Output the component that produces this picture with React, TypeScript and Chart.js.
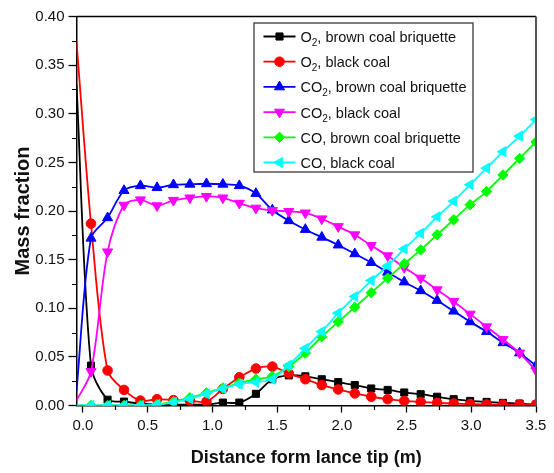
import React, { useEffect, useRef } from 'react';
import { Chart, registerables } from 'chart.js';

Chart.register(...registerables);

// Distance from lance tip (m) for each computed point
const distance = [-0.05, 0.062, 0.19, 0.317, 0.444, 0.572, 0.699, 0.826, 0.954, 1.081, 1.208, 1.336, 1.463, 1.59, 1.718, 1.845, 1.972, 2.1, 2.227, 2.354, 2.482, 2.609, 2.736, 2.864, 2.991, 3.118, 3.245, 3.373, 3.5];

const o2Brown = [0.33, 0.041, 0.006, 0.004, 0.002, 0.001, 0.001, 0.001, 0.001, 0.003, 0.003, 0.012, 0.027, 0.031, 0.030, 0.027, 0.024, 0.021, 0.0175, 0.016, 0.0134, 0.0116, 0.009, 0.0065, 0.0047, 0.0037, 0.0027, 0.002, 0.001];
const o2Black = [0.374, 0.187, 0.036, 0.016, 0.005, 0.0065, 0.0055, 0.005, 0.004, 0.017, 0.029, 0.038, 0.040, 0.033, 0.027, 0.021, 0.0165, 0.0124, 0.009, 0.0065, 0.0047, 0.0037, 0.0027, 0.002, 0.0015, 0.001, 0.001, 0.001, 0.001];
const co2Brown = [0.015, 0.172, 0.193, 0.221, 0.226, 0.224, 0.227, 0.2275, 0.228, 0.2275, 0.226, 0.218, 0.201, 0.190, 0.181, 0.173, 0.165, 0.156, 0.147, 0.137, 0.127, 0.118, 0.108, 0.097, 0.086, 0.076, 0.0645, 0.054, 0.041];
const co2Black = [0.005, 0.035, 0.158, 0.206, 0.2115, 0.2055, 0.211, 0.2135, 0.215, 0.2135, 0.208, 0.203, 0.2006, 0.1996, 0.198, 0.192, 0.184, 0.1756, 0.1645, 0.154, 0.142, 0.131, 0.119, 0.107, 0.094, 0.081, 0.068, 0.054, 0.036];
const coBrown = [0, 0, 0, 0, 0, 0.001, 0.004, 0.008, 0.013, 0.018, 0.023, 0.027, 0.030, 0.040, 0.054, 0.0707, 0.086, 0.101, 0.116, 0.131, 0.1457, 0.160, 0.1756, 0.191, 0.2065, 0.220, 0.237, 0.254, 0.271];
const coBlack = [0, 0, 0, 0, 0, 0.001, 0.003, 0.007, 0.012, 0.0175, 0.022, 0.024, 0.027, 0.0415, 0.0587, 0.076, 0.095, 0.112, 0.1285, 0.1436, 0.161, 0.177, 0.194, 0.210, 0.227, 0.244, 0.261, 0.277, 0.294];

const seriesValues = [o2Brown, o2Black, co2Brown, co2Black, coBrown, coBlack];
const seriesLabels = [
  'O₂, brown coal briquette',
  'O₂, black coal',
  'CO₂, brown coal briquette',
  'CO₂, black coal',
  'CO, brown coal briquette',
  'CO, black coal',
];
const seriesColors = ['#000000', '#ff0000', '#0000ff', '#ff00ff', '#00ff00', '#00ffff'];
const pointStyles = ['rect', 'circle', 'triangle', 'triangle', 'rectRot', 'triangle'];
const pointRotations = [0, 0, 0, 180, 0, -90];
const pointRadii = [5, 4.8, 5.8, 5.8, 5.2, 5.8];

const xTicks = [0, 0.5, 1.0, 1.5, 2.0, 2.5, 3.0, 3.5];
const xMinorTicks = [0.25, 0.75, 1.25, 1.75, 2.25, 2.75, 3.25];
const yTicks = [0, 0.05, 0.1, 0.15, 0.2, 0.25, 0.3, 0.35, 0.4];
const yMinorTicks = [0.025, 0.075, 0.125, 0.175, 0.225, 0.275, 0.325, 0.375];

const FONT = "'Liberation Sans', Arial, Helvetica, sans-serif";

function drawMarker(ctx: CanvasRenderingContext2D, style: string, x: number, y: number, r: number, rotDeg: number, color: string) {
  ctx.save();
  ctx.fillStyle = color;
  ctx.strokeStyle = color;
  ctx.lineWidth = 1;
  ctx.beginPath();
  if (style === 'circle') {
    ctx.arc(x, y, r, 0, Math.PI * 2);
  } else if (style === 'rect') {
    const s = Math.SQRT1_2 * r;
    ctx.rect(x - s, y - s, 2 * s, 2 * s);
  } else if (style === 'rectRot') {
    ctx.moveTo(x, y - r);
    ctx.lineTo(x + r, y);
    ctx.lineTo(x, y + r);
    ctx.lineTo(x - r, y);
    ctx.closePath();
  } else {
    let a = (rotDeg * Math.PI) / 180;
    for (let i = 0; i < 3; i++) {
      const px = x + Math.sin(a) * r;
      const py = y - Math.cos(a) * r;
      if (i === 0) ctx.moveTo(px, py);
      else ctx.lineTo(px, py);
      a += (2 * Math.PI) / 3;
    }
    ctx.closePath();
  }
  ctx.fill();
  ctx.stroke();
  ctx.restore();
}

const framePlugin = {
  id: 'frameAndMinorTicks',
  afterDatasetsDraw(chart: any) {
    const { ctx, chartArea: ca, scales } = chart;
    ctx.save();
    ctx.strokeStyle = '#000';
    ctx.lineWidth = 1.5;
    ctx.beginPath();
    ctx.moveTo(ca.left, ca.top);
    ctx.lineTo(ca.right, ca.top);
    ctx.stroke();
    ctx.strokeStyle = '#555';
    ctx.lineWidth = 2;
    ctx.beginPath();
    ctx.moveTo(ca.right, ca.top);
    ctx.lineTo(ca.right, ca.bottom);
    ctx.stroke();
    ctx.strokeStyle = '#000';
    ctx.lineWidth = 1.2;
    ctx.beginPath();
    for (const v of yMinorTicks) {
      const py = Math.round(scales.y.getPixelForValue(v)) + 0.5;
      ctx.moveTo(ca.left - 4.5, py);
      ctx.lineTo(ca.left, py);
    }
    for (const v of xMinorTicks) {
      const px = Math.round(scales.x.getPixelForValue(v)) + 0.5;
      ctx.moveTo(px, ca.bottom);
      ctx.lineTo(px, ca.bottom + 4.5);
    }
    ctx.stroke();
    ctx.restore();
  },
};

const legendPlugin = {
  id: 'boxedLegend',
  afterDraw(chart: any) {
    const { ctx, chartArea: ca } = chart;
    const bx = ca.left + 177;
    const by = ca.top + 6;
    const bw = 219;
    const bh = 149;
    ctx.save();
    ctx.fillStyle = '#ffffff';
    ctx.fillRect(bx, by, bw, bh);
    ctx.strokeStyle = '#3a3a3a';
    ctx.lineWidth = 1.3;
    ctx.strokeRect(bx + 0.5, by + 0.5, bw, bh);
    const mainSize = 14.5;
    const subSize = 10;
    seriesLabels.forEach((label, i) => {
      const cy = by + 14 + i * 25.2;
      const color = seriesColors[i];
      ctx.strokeStyle = color;
      ctx.lineWidth = 1.8;
      ctx.beginPath();
      ctx.moveTo(bx + 10, cy);
      ctx.lineTo(bx + 42, cy);
      ctx.stroke();
      drawMarker(ctx, pointStyles[i], bx + 26, cy, pointRadii[i], pointRotations[i], color);
      ctx.fillStyle = '#111';
      ctx.textAlign = 'left';
      ctx.textBaseline = 'alphabetic';
      const baseY = cy + 5.5;
      let tx = bx + 47;
      const parts = label.split('₂');
      parts.forEach((part, j) => {
        ctx.font = `${mainSize}px ${FONT}`;
        ctx.fillText(part, tx, baseY);
        tx += ctx.measureText(part).width;
        if (j < parts.length - 1) {
          ctx.font = `${subSize}px ${FONT}`;
          ctx.fillText('2', tx, baseY + 4);
          tx += ctx.measureText('2').width;
        }
      });
    });
    ctx.restore();
  },
};

export default function App() {
  const canvasRef = useRef<HTMLCanvasElement | null>(null);

  useEffect(() => {
    if (!canvasRef.current) return;
    const datasets = seriesValues.map((vals, i) => ({
      label: seriesLabels[i],
      data: distance.map((x, k) => ({ x, y: vals[k] })),
      borderColor: seriesColors[i],
      backgroundColor: seriesColors[i],
      pointBackgroundColor: seriesColors[i],
      pointBorderColor: seriesColors[i],
      pointStyle: pointStyles[i],
      rotation: pointRotations[i],
      pointRotation: pointRotations[i],
      pointRadius: (c: any) => (c.dataIndex === 0 ? 0 : pointRadii[i]),
      pointBorderWidth: 1,
      borderWidth: 1.8,
      tension: 0.3,
      fill: false,
      clip: 0,
      order: seriesValues.length - i,
    }));

    const chart = new Chart(canvasRef.current, {
      type: 'line',
      data: { datasets },
      options: {
        animation: false,
        responsive: true,
        maintainAspectRatio: false,
        layout: { padding: { left: 0, top: 16.5, right: 18, bottom: 0 } },
        plugins: {
          legend: { display: false },
          tooltip: { enabled: false },
        },
        scales: {
          x: {
            type: 'linear',
            min: -0.05,
            max: 3.5,
            afterBuildTicks: (scale: any) => {
              scale.ticks = xTicks.map((v) => ({ value: v }));
            },
            afterFit: (scale: any) => {
              scale.height = 67.5;
              scale.paddingLeft = 0;
              scale.paddingRight = 0;
            },
            ticks: {
              autoSkip: false,
              maxRotation: 0,
              padding: 4,
              color: '#111',
              font: { family: FONT, size: 15 },
              callback: (v: any) => Number(v).toFixed(1),
            },
            grid: {
              display: true,
              drawOnChartArea: false,
              drawTicks: true,
              tickLength: 7,
              tickColor: '#000',
              tickWidth: 1.3,
            },
            border: { display: true, color: '#000', width: 1.5 },
            title: {
              display: true,
              text: 'Distance form lance tip (m)',
              color: '#111',
              font: { family: FONT, size: 18, weight: 'bold' },
              padding: { top: 0, bottom: 4 },
            },
          },
          y: {
            type: 'linear',
            min: 0,
            max: 0.4,
            afterBuildTicks: (scale: any) => {
              scale.ticks = yTicks.map((v) => ({ value: v }));
            },
            afterFit: (scale: any) => {
              scale.width = 76.5;
              scale.paddingTop = 0;
              scale.paddingBottom = 0;
            },
            ticks: {
              autoSkip: false,
              padding: 4,
              color: '#111',
              font: { family: FONT, size: 15 },
              callback: (v: any) => Number(v).toFixed(2),
            },
            grid: {
              display: true,
              drawOnChartArea: false,
              drawTicks: true,
              tickLength: 8,
              tickColor: '#000',
              tickWidth: 1.3,
            },
            border: { display: true, color: '#000', width: 1.5 },
            title: {
              display: true,
              text: 'Mass fraction',
              color: '#111',
              font: { family: FONT, size: 20, weight: 'bold' },
              padding: { top: 11, bottom: 0 },
            },
          },
        },
      },
      plugins: [framePlugin, legendPlugin],
    } as any);

    return () => {
      chart.destroy();
    };
  }, []);

  return (
    <div style={{ position: 'absolute', left: 0, top: 0, width: 554, height: 473, background: '#fff' }}>
      <canvas ref={canvasRef} />
    </div>
  );
}
